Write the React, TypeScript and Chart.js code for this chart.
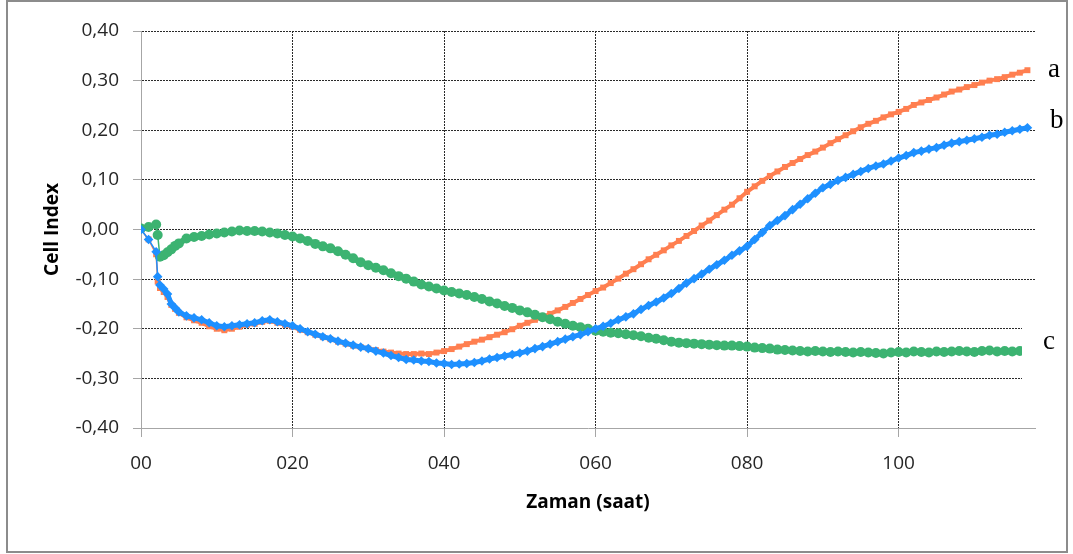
import React, { useEffect, useRef } from 'react';
import { Chart, registerables } from 'chart.js';

Chart.register(...registerables);

// Time (hours)
const hours = [
  0, 1, 2, 2.2, 2.5, 3, 3.5, 4, 4.5, 5,
  6, 7, 8, 9, 10, 11, 12, 13, 14, 15,
  16, 17, 18, 19, 20, 21, 22, 23, 24, 25,
  26, 27, 28, 29, 30, 31, 32, 33, 34, 35,
  36, 37, 38, 39, 40, 41, 42, 43, 44, 45,
  46, 47, 48, 49, 50, 51, 52, 53, 54, 55,
  56, 57, 58, 59, 60, 61, 62, 63, 64, 65,
  66, 67, 68, 69, 70, 71, 72, 73, 74, 75,
  76, 77, 78, 79, 80, 81, 82, 83, 84, 85,
  86, 87, 88, 89, 90, 91, 92, 93, 94, 95,
  96, 97, 98, 99, 100, 101, 102, 103, 104, 105,
  106, 107, 108, 109, 110, 111, 112, 113, 114, 115,
  116, 117,
];

// Series a (orange)
const seriesA = [
  0, -0.02, -0.05, -0.105, -0.118, -0.126, -0.136, -0.152, -0.160, -0.168,
  -0.177, -0.183, -0.188, -0.195, -0.200, -0.203, -0.200, -0.196, -0.192, -0.190,
  -0.186, -0.184, -0.188, -0.192, -0.196, -0.202, -0.207, -0.212, -0.217, -0.221,
  -0.226, -0.230, -0.234, -0.237, -0.240, -0.243, -0.246, -0.248, -0.250, -0.251,
  -0.251, -0.250, -0.251, -0.248, -0.245, -0.241, -0.236, -0.231, -0.226, -0.222,
  -0.217, -0.212, -0.207, -0.201, -0.194, -0.188, -0.182, -0.176, -0.170, -0.163,
  -0.156, -0.148, -0.140, -0.132, -0.124, -0.117, -0.108, -0.099, -0.089, -0.080,
  -0.070, -0.060, -0.051, -0.042, -0.032, -0.023, -0.013, -0.003, 0.008, 0.018,
  0.029, 0.040, 0.050, 0.063, 0.076, 0.087, 0.098, 0.108, 0.117, 0.126,
  0.134, 0.142, 0.150, 0.157, 0.165, 0.174, 0.182, 0.190, 0.198, 0.206,
  0.213, 0.219, 0.226, 0.232, 0.237, 0.243, 0.251, 0.256, 0.261, 0.266,
  0.272, 0.278, 0.282, 0.287, 0.291, 0.296, 0.300, 0.303, 0.307, 0.312,
  0.316, 0.321,
];

// Series b (blue)
const seriesB = [
  0, -0.02, -0.045, -0.095, -0.112, -0.120, -0.130, -0.150, -0.158, -0.166,
  -0.174, -0.178, -0.182, -0.188, -0.194, -0.196, -0.194, -0.192, -0.190, -0.188,
  -0.184, -0.182, -0.186, -0.190, -0.194, -0.200, -0.206, -0.211, -0.216, -0.220,
  -0.225, -0.229, -0.233, -0.237, -0.240, -0.245, -0.249, -0.254, -0.258, -0.262,
  -0.263, -0.265, -0.266, -0.269, -0.270, -0.272, -0.271, -0.270, -0.268, -0.265,
  -0.261, -0.258, -0.255, -0.252, -0.249, -0.245, -0.240, -0.236, -0.231, -0.226,
  -0.221, -0.216, -0.212, -0.206, -0.200, -0.195, -0.189, -0.182, -0.176, -0.170,
  -0.161, -0.153, -0.146, -0.138, -0.129, -0.119, -0.108, -0.099, -0.090, -0.080,
  -0.071, -0.062, -0.052, -0.043, -0.034, -0.020, -0.006, 0.008, 0.018, 0.028,
  0.040, 0.051, 0.062, 0.073, 0.084, 0.091, 0.099, 0.105, 0.111, 0.117,
  0.123, 0.128, 0.132, 0.138, 0.144, 0.149, 0.155, 0.158, 0.162, 0.165,
  0.170, 0.174, 0.177, 0.180, 0.183, 0.186, 0.190, 0.192, 0.196, 0.199,
  0.202, 0.205,
];

// Series c (green)
const seriesC = [
  0.002, 0.005, 0.010, -0.011, -0.055, -0.052, -0.046, -0.040, -0.033, -0.028,
  -0.018, -0.015, -0.013, -0.010, -0.008, -0.006, -0.004, -0.002, -0.003, -0.003,
  -0.004, -0.006, -0.008, -0.011, -0.014, -0.018, -0.023, -0.029, -0.034, -0.038,
  -0.044, -0.051, -0.058, -0.066, -0.072, -0.077, -0.082, -0.088, -0.094, -0.099,
  -0.105, -0.111, -0.115, -0.119, -0.123, -0.126, -0.129, -0.132, -0.136, -0.140,
  -0.145, -0.149, -0.154, -0.158, -0.163, -0.167, -0.172, -0.177, -0.181, -0.186,
  -0.190, -0.194, -0.197, -0.200, -0.204, -0.206, -0.208, -0.209, -0.211, -0.213,
  -0.215, -0.218, -0.220, -0.223, -0.226, -0.228, -0.229, -0.230, -0.231, -0.232,
  -0.233, -0.234, -0.234, -0.235, -0.236, -0.238, -0.239, -0.240, -0.242, -0.243,
  -0.244, -0.245, -0.246, -0.245, -0.246, -0.247, -0.246, -0.247, -0.248, -0.247,
  -0.248, -0.249, -0.250, -0.248, -0.247, -0.248, -0.246, -0.247, -0.248, -0.246,
  -0.247, -0.246, -0.245, -0.246, -0.247, -0.245, -0.244, -0.246, -0.245, -0.246,
  -0.245, -0.245,
];

const seriesLabels = ['a', 'b', 'c'];

const xTickValues = [0, 20, 40, 60, 80, 100];
const xTickLabels = ['00', '020', '040', '060', '080', '100'];
const yTickValues = [-0.4, -0.3, -0.2, -0.1, 0, 0.1, 0.2, 0.3, 0.4];
const yTickLabels = ['-0,40', '-0,30', '-0,20', '-0,10', '0,00', '0,10', '0,20', '0,30', '0,40'];

export default function App() {
  const ref = useRef<HTMLCanvasElement>(null);

  useEffect(() => {
    if (!ref.current) return;
    Chart.defaults.font.family = "'Open Sans', sans-serif";
    const toPts = (vals: number[]) => hours.map((h, i) => ({ x: h, y: vals[i] }));
    const thinStart = (w: number) => ({
      borderWidth: (ctx: any) => (ctx.p1.parsed.x <= 2.5 ? 1.5 : w),
    });

    const endLabels = {
      id: 'endLabels',
      afterDatasetsDraw(chart: any) {
        const ctx = chart.ctx;
        ctx.save();
        ctx.fillStyle = '#ffffff';
        ctx.fillRect(1022, 300, 18, 100);
        ctx.restore();
      },
      afterDraw(chart: any) {
        const ctx = chart.ctx;
        ctx.save();
        ctx.font = "27px 'Liberation Serif', serif";
        ctx.fillStyle = '#000';
        ctx.textAlign = 'left';
        ctx.textBaseline = 'alphabetic';
        ctx.fillText(seriesLabels[0], 1048, 77);
        ctx.fillText(seriesLabels[1], 1050, 128);
        ctx.fillText(seriesLabels[2], 1043, 349);
        ctx.restore();
      },
    };

    const gridDash = [2, 1];
    const gridColor = '#2a2a2a';
    const axisGray = '#a6a6a6';

    const chart = new Chart(ref.current, {
      type: 'line',
      data: {
        datasets: [
          {
            label: seriesLabels[0],
            data: toPts(seriesA),
            borderColor: '#FF7F50',
            backgroundColor: '#FF7F50',
            borderWidth: 4,
            segment: thinStart(4),
            pointStyle: 'rect',
            pointRadius: 4.2,
            pointBorderWidth: 0,
            order: 2,
          },
          {
            label: seriesLabels[1],
            data: toPts(seriesB),
            borderColor: '#1E90FF',
            backgroundColor: '#1E90FF',
            borderWidth: 5,
            segment: thinStart(5),
            pointStyle: 'rectRot',
            pointRadius: 4.8,
            pointBorderWidth: 0,
            order: 0,
          },
          {
            label: seriesLabels[2],
            data: toPts(seriesC),
            borderColor: '#3CB371',
            backgroundColor: '#3CB371',
            borderWidth: 6,
            segment: thinStart(6),
            pointStyle: 'circle',
            pointRadius: 5,
            pointBorderWidth: 0,
            order: 1,
          },
        ],
      },
      options: {
        responsive: false,
        animation: false,
        devicePixelRatio: 1,
        layout: { padding: { left: 0, top: 31, right: 38, bottom: 0 } },
        plugins: { legend: { display: false }, tooltip: { enabled: false } },
        elements: { line: { tension: 0 } },
        scales: {
          x: {
            type: 'linear',
            min: 0,
            max: 118,
            afterBuildTicks: (s: any) => {
              s.ticks = xTickValues.map((v) => ({ value: v }));
            },
            afterFit: (s: any) => {
              s.height = 126;
            },
            grid: {
              color: (c: any) => (c.tick && c.tick.value === 0 ? 'rgba(0,0,0,0)' : gridColor),
              lineWidth: 1,
              tickLength: 9,
              tickColor: axisGray,
              drawTicks: true,
            },
            border: { display: true, color: axisGray, width: 1, dash: gridDash },
            ticks: {
              padding: 15,
              color: '#262626',
              font: { size: 19 },
              maxRotation: 0,
              autoSkip: false,
              callback: (_v: any, i: number) => xTickLabels[i],
            },
            title: {
              display: true,
              text: 'Zaman (saat)',
              color: '#000',
              font: { size: 19, weight: 'bold' },
              padding: { top: 0, bottom: 40 },
            },
          },
          y: {
            type: 'linear',
            min: -0.4,
            max: 0.4,
            afterBuildTicks: (s: any) => {
              s.ticks = yTickValues.map((v) => ({ value: v }));
            },
            afterFit: (s: any) => {
              s.width = 141;
            },
            grid: {
              color: (c: any) => (c.tick && Math.abs(c.tick.value + 0.4) < 1e-9 ? 'rgba(0,0,0,0)' : gridColor),
              lineWidth: 1,
              tickLength: 8,
              tickColor: axisGray,
              drawTicks: true,
            },
            border: { display: true, color: axisGray, width: 1, dash: gridDash },
            ticks: {
              padding: 14,
              color: '#262626',
              font: { size: 19 },
              autoSkip: false,
              callback: (_v: any, i: number) => yTickLabels[i],
            },
            title: {
              display: true,
              text: 'Cell Index',
              color: '#000',
              font: { size: 19, weight: 'bold' },
              padding: { top: 41, bottom: 0 },
            },
          },
        },
      },
      plugins: [endLabels],
    } as any);

    return () => chart.destroy();
  }, []);

  return (
    <div style={{ position: 'absolute', left: 0, top: 0, width: 1073, height: 554, background: '#fff' }}>
      <canvas ref={ref} width={1073} height={554} style={{ position: 'absolute', left: 0, top: 0, width: 1073, height: 554 }} />
      <div
        style={{
          position: 'absolute',
          left: 6,
          top: 0,
          width: 1062,
          height: 553,
          border: '2px solid #8c8c8c',
          boxSizing: 'border-box',
          pointerEvents: 'none',
        }}
      />
    </div>
  );
}
